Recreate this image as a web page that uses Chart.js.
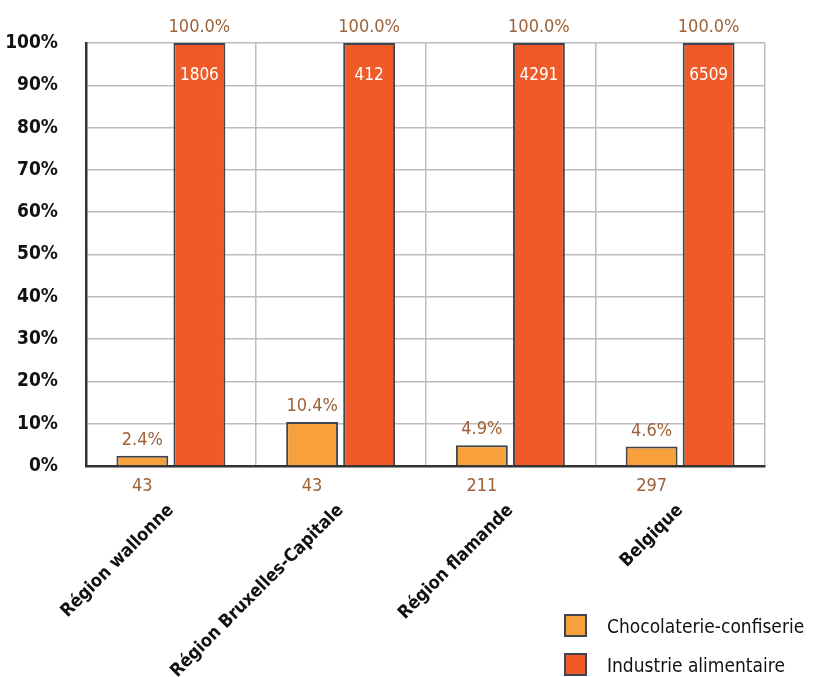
<!DOCTYPE html>
<html>
<head>
<meta charset="utf-8">
<script src="https://cdn.jsdelivr.net/npm/chart.js@4"></script>
<style>
  html, body { margin: 0; padding: 0; background: #fff; }
  #wrap { width: 815px; height: 677px; }
</style>
</head>
<body>
<div id="wrap"><canvas id="graphique" width="815" height="677"></canvas></div>
<script>
// Données du graphique
const categories = ['Région wallonne', 'Région Bruxelles-Capitale', 'Région flamande', 'Belgique'];
const seriesNames = ['Chocolaterie-confiserie', 'Industrie alimentaire'];
const chocoPct = [2.4, 10.4, 4.9, 4.6];
const chocoCount = [43, 43, 211, 297];
const industriePct = [100, 100, 100, 100];
const industrieCount = [1806, 412, 4291, 6509];
const yTicks = [0, 10, 20, 30, 40, 50, 60, 70, 80, 90, 100];

const POLICE = "'Liberation Sans Narrow', 'DejaVu Sans Condensed', sans-serif";
const BRUN = '#9e6238';
const BORD = '#3d4650';

// Étiquettes sur les barres + légende dessinée à la main
const etiquettes = {
    id: 'etiquettes',
    afterDatasetsDraw(chart) {
        const ctx = chart.ctx;
        ctx.save();
        ctx.textAlign = 'center';
        ctx.textBaseline = 'alphabetic';
        chart.data.datasets.forEach(function (ds, i) {
            const meta = chart.getDatasetMeta(i);
            meta.data.forEach(function (bar, j) {
                // pourcentage au-dessus
                ctx.font = '18px ' + POLICE;
                ctx.fillStyle = BRUN;
                ctx.fillText(ds.data[j].toFixed(1) + '%', bar.x, bar.y - 11);
                // effectifs
                if (i === 0) {
                    ctx.fillText(String(ds.counts[j]), bar.x, bar.base + 26);
                } else {
                    ctx.font = '17px ' + POLICE;
                    ctx.fillStyle = '#ffffff';
                    ctx.fillText(String(ds.counts[j]), bar.x, bar.y + 37);
                }
            });
        });
        // légende
        ctx.textAlign = 'left';
        ctx.font = '19px ' + POLICE;
        chart.data.datasets.forEach(function (ds, i) {
            const y = 615 + i * 39;
            ctx.fillStyle = ds.backgroundColor;
            ctx.fillRect(565, y, 21, 21);
            ctx.strokeStyle = BORD;
            ctx.lineWidth = 2;
            ctx.strokeRect(565, y, 21, 21);
            ctx.fillStyle = '#111';
            ctx.fillText(ds.label, 607, y + 18);
        });
        ctx.restore();
    }
};

const ctx = document.getElementById('graphique').getContext('2d');
const graphique = new Chart(ctx, {
    type: 'bar',
    data: {
        labels: categories,
        datasets: [{
            label: seriesNames[0],
            data: chocoPct,
            counts: chocoCount,
            backgroundColor: '#f8a13c',
            borderColor: BORD,
            borderWidth: 2,
            barPercentage: 0.91,
            categoryPercentage: 0.672
        }, {
            label: seriesNames[1],
            data: industriePct,
            counts: industrieCount,
            backgroundColor: '#ef5a28',
            borderColor: BORD,
            borderWidth: 2,
            barPercentage: 0.91,
            categoryPercentage: 0.672
        }]
    },
    options: {
        responsive: false,
        animation: false,
        layout: { padding: { top: 43, right: 50, left: 0, bottom: 0 } },
        plugins: {
            legend: { display: false },
            tooltip: { enabled: false }
        },
        scales: {
            x: {
                grid: { color: '#bdbdbd', lineWidth: 1.5, drawTicks: false, offset: true },
                border: { color: '#333', width: 2.5 },
                ticks: {
                    color: '#111',
                    font: { family: POLICE, size: 18, weight: 'bold' },
                    maxRotation: 45, minRotation: 45,
                    autoSkip: false,
                    padding: 34
                },
                afterFit(scale) { scale.height = 211; }
            },
            y: {
                min: 0, max: 100,
                afterBuildTicks(scale) { scale.ticks = yTicks.map(v => ({ value: v })); },
                grid: { color: '#bdbdbd', lineWidth: 1.5, drawTicks: false },
                border: { color: '#333', width: 2.5 },
                ticks: {
                    color: '#111',
                    font: { family: POLICE, size: 19, weight: 'bold' },
                    padding: 28,
                    callback: v => v + '%'
                },
                afterFit(scale) { scale.width = 86; }
            }
        }
    },
    plugins: [etiquettes]
});
</script>
</body>
</html>
